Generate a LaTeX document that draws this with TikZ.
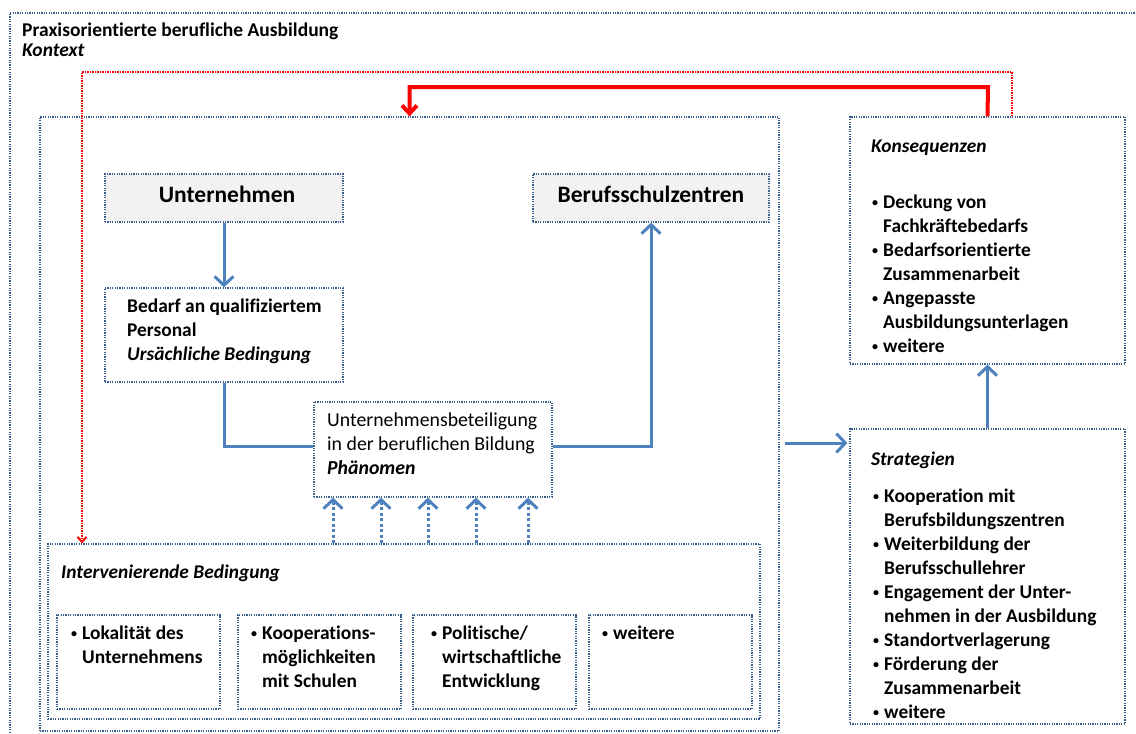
\documentclass[tikz,border=0pt]{standalone}
\usepackage{fontspec}
\setmainfont{Carlito}[Ligatures=CommonOff]
\usetikzlibrary{arrows.meta}

\definecolor{frameblue}{RGB}{56,93,138}
\definecolor{arrowblue}{RGB}{79,129,189}
\definecolor{boxgray}{RGB}{242,242,242}
\definecolor{pathred}{RGB}{255,0,0}

% small bullet column and hanging indent for list lines
\newcommand{\blt}{\makebox[11pt][l]{\raisebox{1.5pt}{\fontsize{12}{12}\selectfont\textbullet}}}
\newcommand{\ind}{\hspace*{11pt}}

\tikzset{
  frame/.style={draw=frameblue, line width=1.2pt, dash pattern=on 1.2pt off 1.2pt, inner sep=0pt},
  graybox/.style={frame, fill=boxgray, font=\fontsize{23.5}{26}\selectfont\bfseries, text height=16pt, text depth=8pt},
  txt/.style={anchor=base west, inner sep=0pt, font=\fontsize{19.4}{24}\selectfont\bfseries},
  plaintxt/.style={anchor=base west, inner sep=0pt, font=\fontsize{19.8}{24}\selectfont},
  titletxt/.style={anchor=base west, inner sep=0pt, font=\fontsize{19.5}{20}\selectfont\bfseries},
  flow/.style={draw=arrowblue, line width=3pt},
  flowarrow/.style={flow, -{Straight Barb[length=9pt,width=19pt]}},
  influence/.style={flow, dash pattern=on 3pt off 2.5pt, -{Straight Barb[length=9pt,width=19pt]}},
  feedback/.style={draw=pathred, line width=4pt, -{Straight Barb[length=8pt,width=15pt]}},
  feedbackdot/.style={draw=pathred, line width=2pt, dash pattern=on 1.5pt off 1pt, -{Straight Barb[length=5pt,width=9pt]}}
}

\begin{document}
\begin{tikzpicture}[x=1pt,y=-1pt]
\useasboundingbox (0,0) rectangle (1136,734);

% context frame (runs off the page to the right and bottom)
\draw[frame] (10,740) -- (10,13) -- (1145,13);
\node[titletxt] (title) at (22,36) {\begin{tabular}[t]{@{}l@{}}Praxisorientierte berufliche Ausbildung\\ \textit{Kontext}\end{tabular}};

% main area
\node[frame, minimum width=739, minimum height=614] (main) at (409.5,424) {};

\node[graybox, minimum width=238, minimum height=48, text width=230, align=center] (unt) at (224,198) {\hspace*{6pt}Unternehmen};
\node[graybox, minimum width=236, minimum height=48, text width=228, align=center] (bsz) at (651,198) {Berufsschulzentren\hspace*{8pt}};

\node[frame, minimum width=238, minimum height=94] (bed) at (224,335) {};
\node[txt] (bedtxt) at (127,312) {\begin{tabular}[t]{@{}l@{}}Bedarf an qualifiziertem\\ Personal\\ \textit{Ursächliche Bedingung}\end{tabular}};

\node[frame, minimum width=238, minimum height=95] (phae) at (433,449.5) {};
\node[plaintxt] (phaetxt) at (327,426) {\begin{tabular}[t]{@{}l@{}}Unternehmensbeteiligung\\ in der beruflichen Bildung\\ \textbf{\textit{Phänomen}}\end{tabular}};

% intervening conditions
\node[frame, minimum width=712, minimum height=175] (interv) at (404,631.5) {};
\node[txt] (intervtxt) at (61,578) {\textit{Intervenierende Bedingung}};

\node[frame, minimum width=163, minimum height=94] (sub1) at (138.5,662) {};
\node[frame, minimum width=163, minimum height=94] (sub2) at (319.5,662) {};
\node[frame, minimum width=163, minimum height=94] (sub3) at (494.5,662) {};
\node[frame, minimum width=163, minimum height=94] (sub4) at (670.5,662) {};
\node[txt] (sub1txt) at (71,639) {\begin{tabular}[t]{@{}l@{}}\blt Lokalität des\\ \ind Unternehmens\end{tabular}};
\node[txt] (sub2txt) at (251,639) {\begin{tabular}[t]{@{}l@{}}\blt Kooperations-\\ \ind möglichkeiten\\ \ind mit Schulen\end{tabular}};
\node[txt] (sub3txt) at (431,639) {\begin{tabular}[t]{@{}l@{}}\blt Politische/\\ \ind wirtschaftliche\\ \ind Entwicklung\end{tabular}};
\node[txt] (sub4txt) at (602,639) {\begin{tabular}[t]{@{}l@{}}\blt weitere\end{tabular}};

% consequences and strategies
\node[frame, minimum width=275, minimum height=247] (kons) at (987.5,240.5) {};
\node[txt] (konslabel) at (871,152) {\textit{Konsequenzen}};
\node[txt] (konstxt) at (872,208) {\begin{tabular}[t]{@{}l@{}}\blt Deckung von\\ \ind Fachkräftebedarfs\\ \blt Bedarfsorientierte\\ \ind Zusammenarbeit\\ \blt Angepasste\\ \ind Ausbildungsunterlagen\\ \blt weitere\end{tabular}};

\node[frame, minimum width=275, minimum height=295] (strat) at (987.5,576.5) {};
\node[txt] (stratlabel) at (871,465) {\textit{Strategien}};
\node[txt] (strattxt) at (873,502) {\begin{tabular}[t]{@{}l@{}}\blt Kooperation mit\\ \ind Berufsbildungszentren\\ \blt Weiterbildung der\\ \ind Berufsschullehrer\\ \blt Engagement der Unter-\\ \ind nehmen in der Ausbildung\\ \blt Standortverlagerung\\ \blt Förderung der\\ \ind Zusammenarbeit\\ \blt weitere\end{tabular}};

% flows inside the main area
\draw[flowarrow] (unt.south) -- (bed.north);
\draw[flow] (bed.south) |- ([yshift=3pt]phae.west);
\draw[flowarrow] ([yshift=3pt]phae.east) -| (bsz.south);

% influences of the intervening conditions
\foreach \xx in {333,381,428,476,528}
  \draw[influence] (\xx,0 |- interv.north) -- (\xx,0 |- phae.south);

% from the main area to strategies, strategies to consequences
\draw[flowarrow] ([xshift=5pt]main.east |- 0,443) -- ([xshift=-2pt]strat.west |- 0,443);
\draw[flowarrow] (strat.north) -- (kons.south);

% feedback loops
\draw[feedback] (kons.north) -- (988,87) -| (main.north);
\draw[feedbackdot] (1012,0 |- kons.north) -- (1012,72) -| (82,0 |- interv.north);
\end{tikzpicture}
\end{document}
